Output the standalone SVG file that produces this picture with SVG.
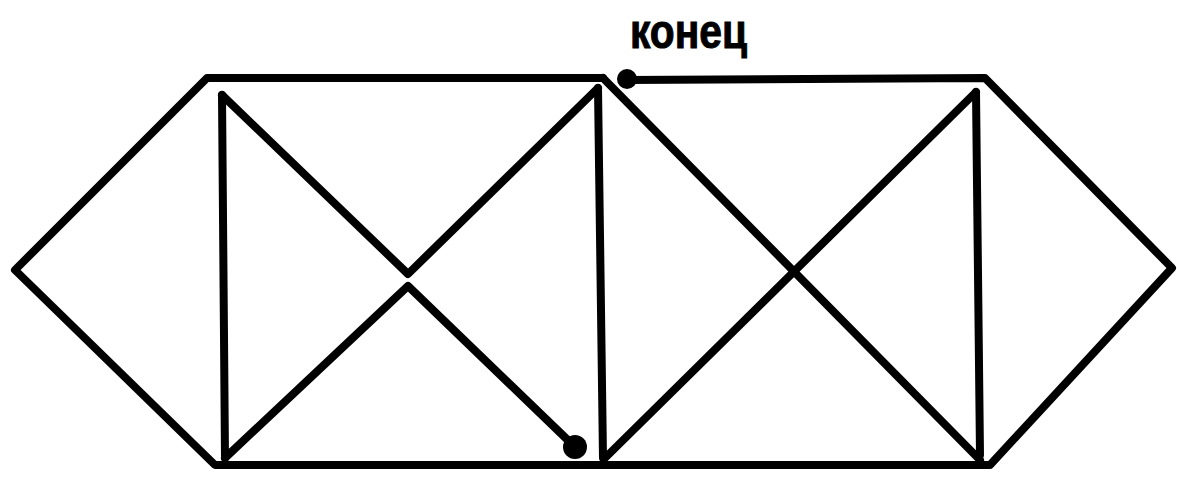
<svg xmlns="http://www.w3.org/2000/svg" width="1177" height="479" viewBox="0 0 1177 479">
<style>
.ln{fill:none;stroke:#000;stroke-width:8;stroke-linejoin:round;stroke-linecap:round}
.dot{fill:#000}
.lbl{font-family:"Liberation Sans",Arial,sans-serif;font-weight:bold;font-size:48px;fill:#000;stroke:#000;stroke-width:1}
</style>
<rect width="1177" height="479" fill="#fff"/>
<g id="connectors">
<path class="ln" d="M603,78 L207,78 L15,270 L215,465 L990,465 L1172,268 L985,78 L627,80"/>
<path class="ln" d="M222,95 L225,458"/>
<path class="ln" d="M598,88 L603,458"/>
<path class="ln" d="M976,92 L980,455"/>
<path class="ln" d="M222,95 L408,274 L598,88"/>
<path class="ln" d="M225,458 L408,286 L575,447"/>
<path class="ln" d="M603,78 L980,460"/>
<path class="ln" d="M605,458 L976,92"/>
</g>
<g id="start-end">
<circle class="dot" cx="627" cy="79" r="10"/>
<circle class="dot" cx="575" cy="447" r="12"/>
</g>
<g id="label">
<text class="lbl" x="630" y="48" textLength="117" lengthAdjust="spacingAndGlyphs">конец</text>
</g>
</svg>
